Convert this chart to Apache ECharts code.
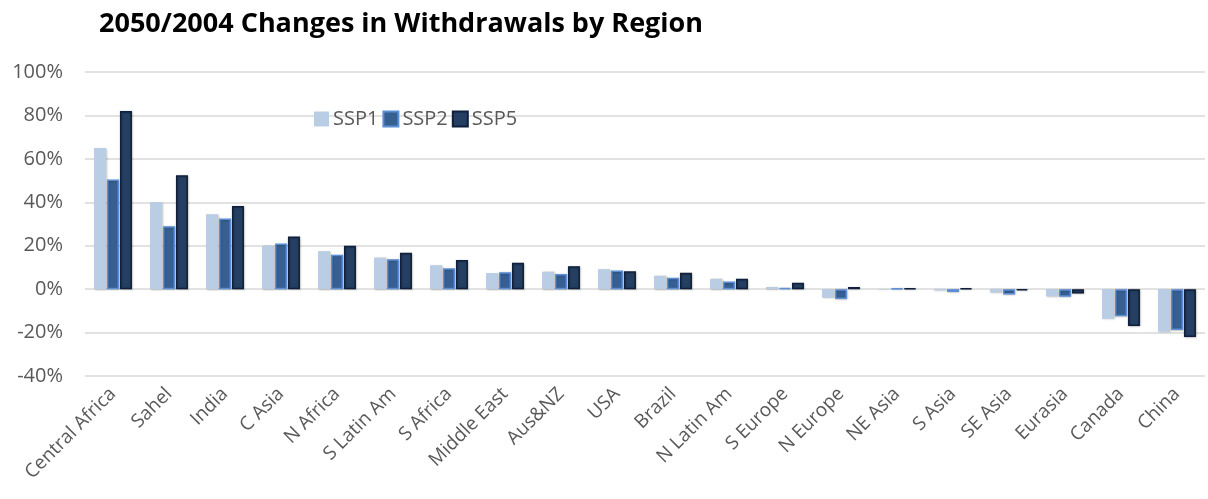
<!DOCTYPE html>
<html>
<head>
<meta charset="utf-8">
<script src="https://cdn.jsdelivr.net/npm/echarts@6/dist/echarts.min.js"></script>
<style>
  html, body { margin: 0; padding: 0; background: #fff; }
  #chart { width: 1208px; height: 499px; }
</style>
</head>
<body>
<div id="chart"></div>
<script>
// Regions, ordered by SSP5 change
const regions = ['Central Africa', 'Sahel', 'India', 'C Asia', 'N Africa', 'S Latin Am', 'S Africa',
  'Middle East', 'Aus&NZ', 'USA', 'Brazil', 'N Latin Am', 'S Europe', 'N Europe', 'NE Asia',
  'S Asia', 'SE Asia', 'Eurasia', 'Canada', 'China'];

// Percent change in withdrawals, 2050 vs 2004
const ssp1 = [65, 40, 34.5, 20, 17.5, 14.5, 11, 7.4, 8, 9.2, 6.1, 4.7, 1, -4, -0.2, -0.6, -1.5, -3.3, -13.7, -19.6];
const ssp2 = [50.5, 29, 32.5, 21, 15.8, 13.8, 9.6, 7.8, 7, 8.6, 5.2, 3.5, 0.5, -4.5, 0.3, -1.3, -2.5, -3.5, -12.5, -18.8];
const ssp5 = [82, 52.5, 38.3, 24.2, 20, 16.8, 13.4, 12.2, 10.6, 8.2, 7.5, 4.8, 3, 1, 0.3, 0.4, -0.6, -2, -17, -22];

const yTicks = { min: -40, max: 100, step: 20 };

const chart = echarts.init(document.getElementById('chart'), null, { renderer: 'canvas' });

const font = '"Open Sans", "Noto Sans", sans-serif';
const grey = '#595959';

function barSeries(name, data, fill, border) {
  return {
    name: name,
    type: 'bar',
    data: data,
    barWidth: 12,
    barGap: '8%',
    itemStyle: {
      color: fill,
      borderColor: border,
      borderWidth: border ? 1.5 : 0,
      shadowColor: 'rgba(0,0,0,0.25)',
      shadowBlur: 2,
      shadowOffsetX: 0.5,
      shadowOffsetY: 0.5
    }
  };
}

chart.setOption({
  animation: false,
  title: {
    text: '2050/2004 Changes in Withdrawals by Region',
    left: 94,
    top: 6,
    textStyle: { fontFamily: font, fontWeight: 'bold', fontSize: 27, color: '#000' }
  },
  legend: {
    left: 309,
    top: 104,
    itemWidth: 15,
    itemHeight: 15,
    itemGap: 4,
    icon: 'rect',
    textStyle: { fontFamily: font, fontSize: 20, color: grey, padding: [0, 0, 0, -1] },
    data: ['SSP1', 'SSP2', 'SSP5']
  },
  grid: { left: 85, right: 3, top: 72, bottom: 123, containLabel: false },
  xAxis: {
    type: 'category',
    data: regions,
    axisLine: { show: false },
    axisTick: { show: false },
    axisLabel: {
      interval: 0,
      rotate: 45,
      margin: 15,
      fontFamily: font,
      fontSize: 19,
      color: grey
    }
  },
  yAxis: {
    type: 'value',
    min: yTicks.min,
    max: yTicks.max,
    interval: yTicks.step,
    axisLine: { show: false },
    axisTick: { show: false },
    axisLabel: {
      formatter: '{value}%',
      fontFamily: font,
      fontSize: 20,
      color: grey,
      margin: 22
    },
    splitLine: { lineStyle: { color: '#d9d9d9', width: 1.5 } }
  },
  series: [
    barSeries('SSP1', ssp1, '#b9cde5', null),
    barSeries('SSP2', ssp2, '#366092', '#5b8fd8'),
    barSeries('SSP5', ssp5, '#243f62', '#10203c')
  ]
});
</script>
</body>
</html>
